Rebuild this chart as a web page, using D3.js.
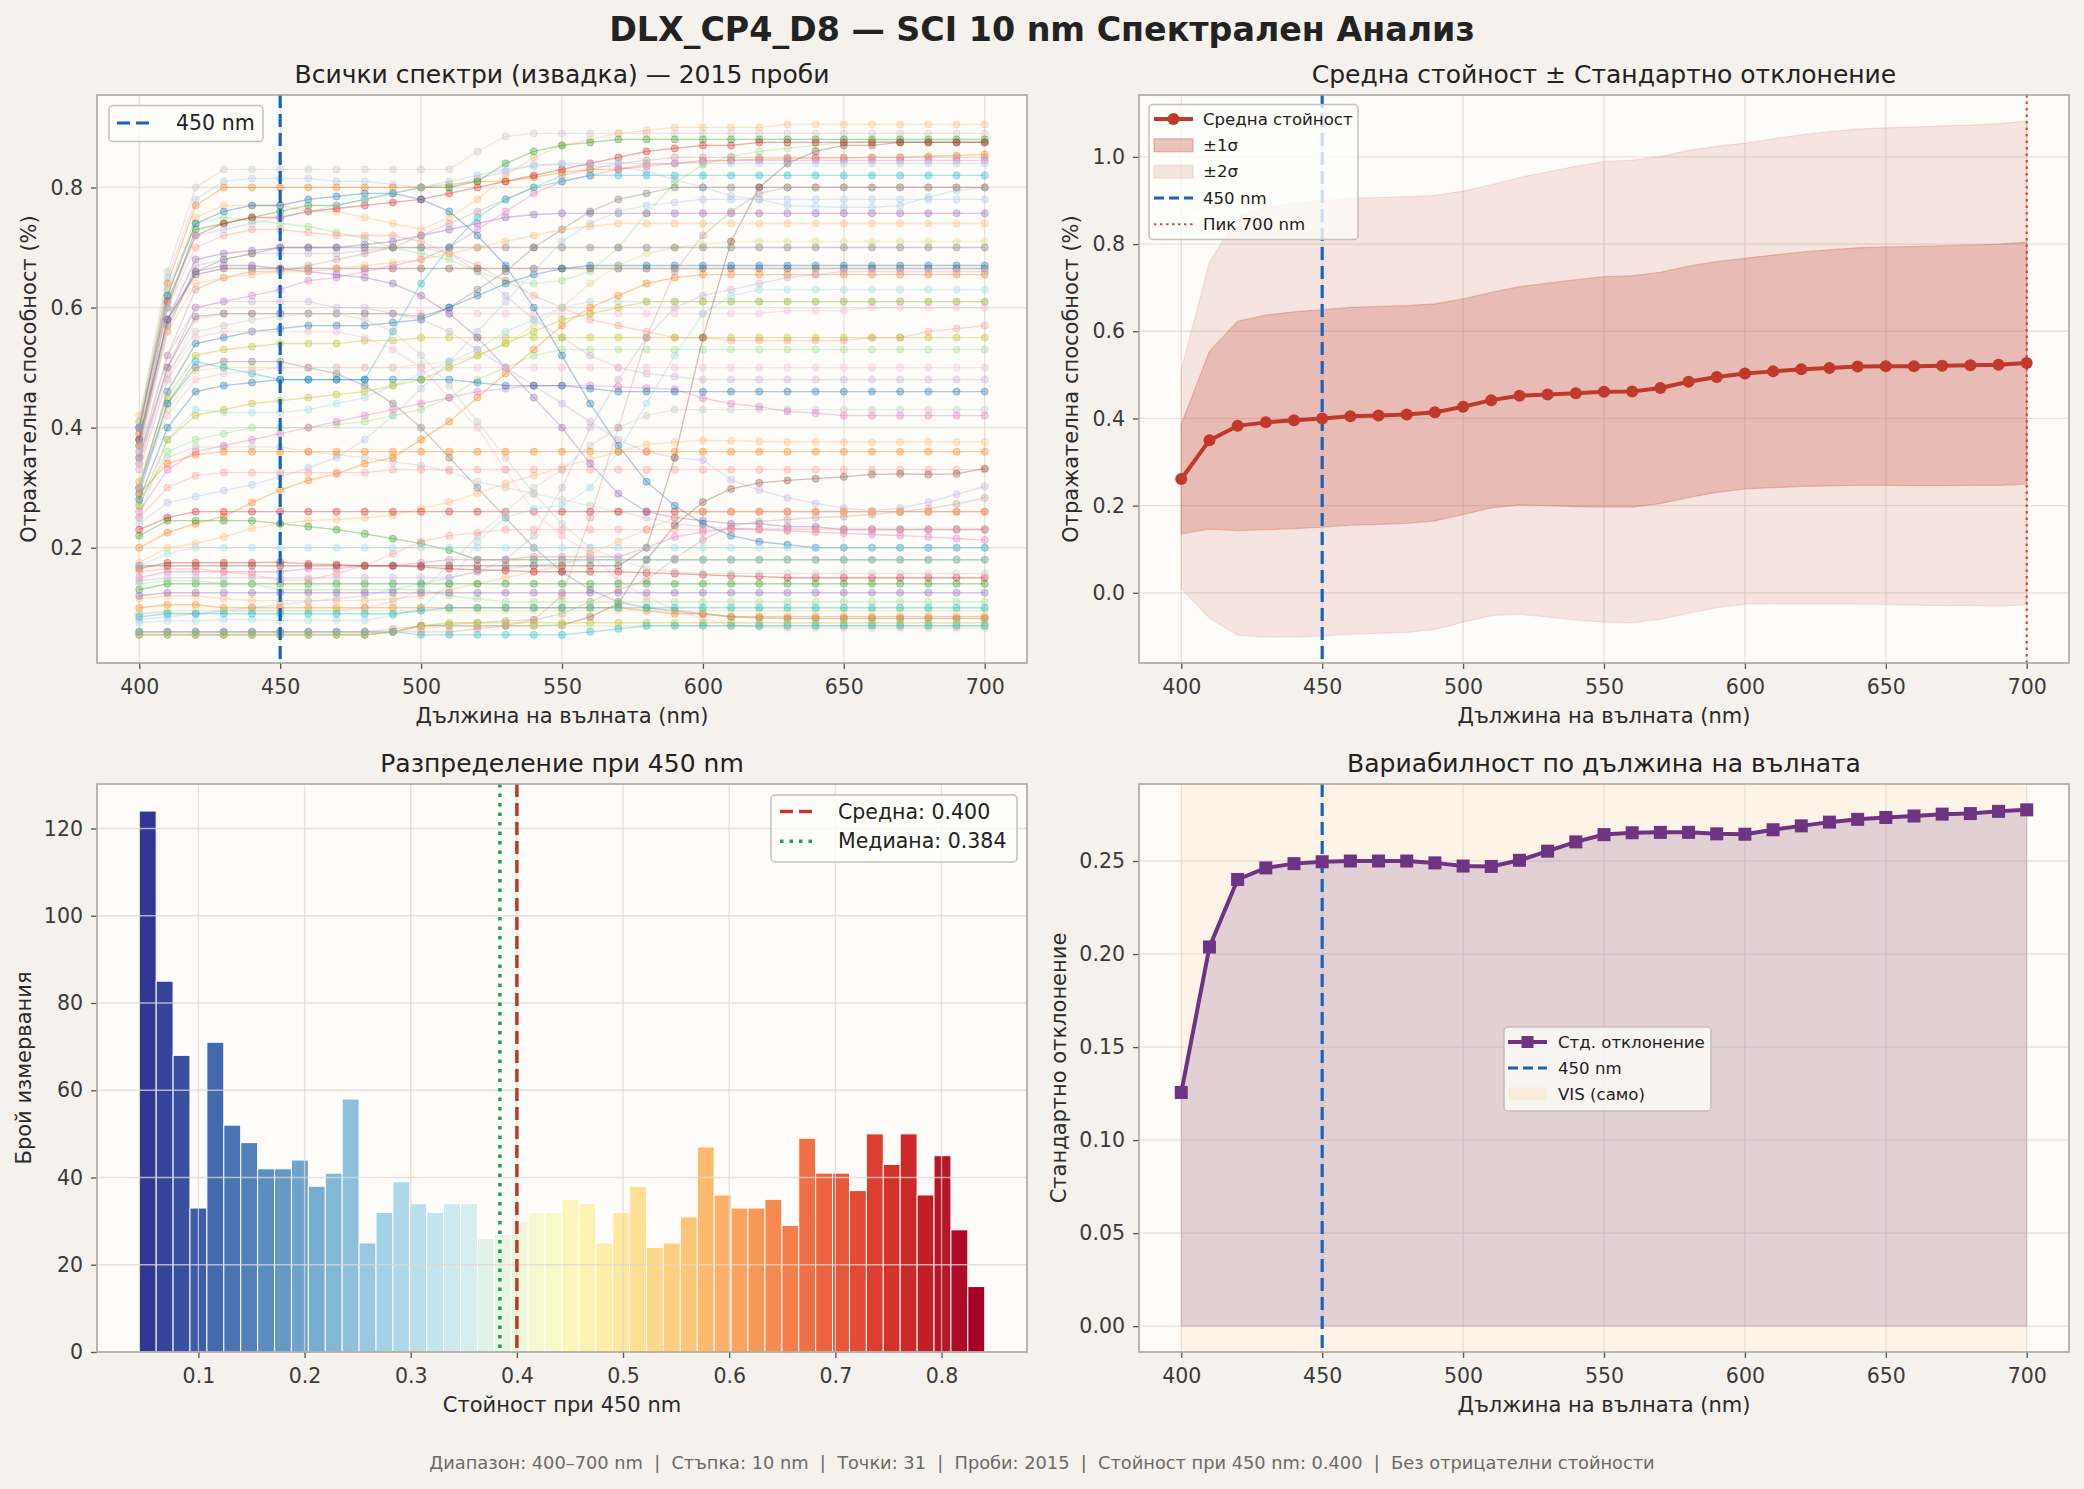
<!DOCTYPE html>
<html>
<head>
<meta charset="utf-8">
<script src="https://cdn.jsdelivr.net/npm/d3@7"></script>
<style>
  body { margin: 0; background: #f5f1ec; }
  text { font-family: "DejaVu Sans", sans-serif; }
</style>
</head>
<body>
<svg id="chart" width="2084" height="1489"></svg>
<script>
// ---- data ----
const wavelengths = [400,410,420,430,440,450,460,470,480,490,500,510,520,530,540,550,560,570,580,590,600,610,620,630,640,650,660,670,680,690,700];
const meanRefl = [.261,.350,.383,.391,.396,.400,.405,.407,.409,.414,.427,.442,.452,.455,.458,.461,.462,.470,.484,.495,.503,.508,.513,.516,.519,.520,.520,.521,.522,.523,.527];
const stdRefl = [.1256,.2038,.2401,.2463,.2486,.2496,.2500,.2500,.2500,.2490,.2473,.2471,.2504,.2553,.2603,.2642,.2652,.2654,.2654,.2646,.2644,.2668,.2689,.2709,.2724,.2734,.2742,.2752,.2755,.2767,.2775];
const histCounts = [124,85,68,33,71,52,48,42,42,44,38,41,58,25,32,39,34,32,34,34,26,27,30,32,32,35,34,25,32,38,24,25,31,47,36,33,33,35,29,49,41,41,37,50,43,50,36,45,28,15];
const histMin = 0.0443, histMax = 0.8407;
const meanAt450 = 0.400, medianAt450 = 0.384;
const nSamples = 2015;

const wlTicks = [400,450,500,550,600,650,700];
const reflTicksTL = [0.2,0.4,0.6,0.8];
const reflTicksTR = [0.0,0.2,0.4,0.6,0.8,1.0];
const histXTicks = [0.1,0.2,0.3,0.4,0.5,0.6,0.7,0.8];
const histYTicks = [0,20,40,60,80,100,120];
const stdTicks = [0,0.05,0.10,0.15,0.20,0.25];

// sample spectra (400..700 nm, 10 nm step)
const sampleSpectra = [
 [.41,.66,.80,.83,.83, .83,.83,.83,.83,.83, .83,.83,.86,.885,.89, .89,.89,.89,.89,.89, .89,.89,.89,.89,.89, .89,.89,.89,.89,.89, .89],
 [.40,.65,.78,.81,.815, .815,.815,.81,.81,.805, .80,.80,.815,.826,.838, .838,.836,.834,.827,.813, .80,.786,.78,.77,.768, .767,.767,.77,.784,.795, .80],
 [.39,.64,.77,.80,.80, .80,.80,.80,.80,.80, .80,.805,.81,.81,.817, .825,.83,.83,.839,.84, .843,.845,.847,.848,.849, .849,.85,.85,.852,.853, .855],
 [.42,.62,.75,.77,.77, .77,.76,.76,.75,.74, .73,.75,.78,.82,.85, .87,.88,.89,.895,.90, .90,.90,.90,.905,.905, .905,.905,.905,.905,.905, .905],
 [.38,.60,.73,.74,.75, .76,.77,.77,.78,.79, .80,.80,.81,.84,.86, .87,.875,.88,.88,.88, .88,.88,.88,.88,.88, .88,.88,.88,.88,.88, .88],
 [.41,.63,.74,.75,.745, .74,.735,.725,.715,.70, .69,.68,.66,.645,.64, .645,.66,.70,.757,.807, .838,.852,.86,.865,.87, .875,.877,.877,.877,.877, .877],
 [.40,.61,.72,.74,.75, .75,.76,.765,.77,.775, .78,.79,.80,.81,.82, .83,.84,.85,.86,.865, .87,.87,.875,.875,.875, .875,.875,.875,.875,.875, .875],
 [.39,.60,.70,.72,.73, .73,.725,.72,.72,.72, .71,.69,.67,.645,.62, .60,.58,.57,.56,.55, .55,.545,.545,.545,.545, .545,.55,.55,.56,.565, .57],
 [.37,.58,.68,.69,.695, .70,.70,.70,.705,.71, .72,.73,.74,.75,.755, .757,.757,.757,.757,.757, .757,.757,.757,.757,.757, .757,.757,.757,.757,.757, .757],
 [.36,.56,.67,.68,.69, .69,.69,.69,.695,.70, .70,.69,.66,.62,.58, .55,.52,.50,.49,.485, .48,.48,.48,.48,.48, .48,.48,.48,.48,.48, .48],
 [.38,.58,.655,.665,.665, .665,.665,.665,.665,.665, .665,.665,.665,.665,.665, .665,.665,.665,.665,.665, .665,.665,.665,.665,.665, .665,.665,.665,.665,.665, .665],
 [.35,.52,.63,.65,.66, .66,.67,.68,.69,.70, .72,.74,.76,.78,.80, .82,.83,.84,.845,.85, .85,.85,.85,.85,.85, .85,.85,.85,.85,.85, .85],
 [.34,.50,.60,.61,.62, .63,.645,.65,.66,.67, .68,.70,.73,.76,.79, .81,.82,.83,.835,.84, .845,.845,.845,.845,.845, .845,.845,.845,.845,.845, .845],
 [.33,.48,.58,.59,.59, .59,.59,.59,.59,.59, .59,.59,.59,.59,.59, .59,.59,.59,.59,.59, .59,.59,.59,.595,.595, .595,.60,.60,.60,.60, .60],
 [.35,.50,.585,.59,.59, .59,.59,.59,.59,.59, .585,.60,.63,.66,.70, .73,.76,.78,.79,.80, .80,.80,.80,.80,.80, .80,.80,.80,.80,.80, .80],
 [.30,.46,.54,.55,.56, .565,.57,.57,.57,.575, .58,.60,.62,.64,.655, .665,.67,.67,.67,.67, .67,.67,.67,.67,.67, .67,.67,.67,.67,.67, .67],
 [.31,.45,.52,.53,.535, .54,.54,.54,.545,.545, .55,.55,.55,.55,.55, .55,.55,.55,.55,.55, .55,.55,.55,.55,.55, .55,.55,.55,.55,.55, .55],
 [.30,.43,.495,.50,.50, .50,.50,.50,.50,.50, .505,.51,.52,.54,.57, .60,.64,.67,.69,.70, .705,.71,.71,.71,.71, .71,.71,.71,.71,.71, .71],
 [.29,.44,.51,.50,.49, .48,.48,.48,.48,.56, .64,.70,.75,.78,.80, .81,.82,.82,.82,.82, .82,.82,.82,.82,.82, .82,.82,.82,.82,.82, .82],
 [.25,.38,.43,.425,.425, .425,.43,.44,.45,.47, .49,.51,.53,.56,.58, .60,.61,.61,.61,.61, .61,.61,.61,.61,.61, .61,.61,.61,.61,.61, .61],
 [.28,.35,.368,.368,.368, .368,.36,.355,.35,.343, .337,.327,.31,.30,.29, .28,.27,.26,.25,.24, .235,.232,.232,.232,.232, .232,.232,.232,.232,.232, .232],
 [.24,.275,.285,.295,.305, .318,.333,.35,.38,.42, .465,.51,.56,.61,.66, .71,.74,.76,.77,.775, .78,.78,.78,.78,.78, .78,.78,.78,.78,.78, .78],
 [.20,.225,.24,.252,.275, .296,.312,.323,.34,.35, .38,.41,.45,.49,.53, .57,.60,.62,.64,.65, .655,.655,.655,.655,.655, .655,.655,.655,.655,.655, .655],
 [.175,.20,.207,.218,.232, .24,.245,.247,.25,.254, .265,.276,.29,.307,.32, .334,.347,.36,.372,.376, .379,.378,.377,.376,.376, .376,.376,.376,.376,.376, .376],
 [.22,.245,.245,.245,.245, .24,.235,.23,.223,.215, .207,.196,.18,.18,.18, .18,.18,.18,.18,.18, .18,.18,.18,.18,.18, .18,.18,.18,.18,.18, .18],
 [.27,.36,.38,.39,.40, .40,.40,.405,.41,.42, .43,.45,.48,.50,.52, .53,.53,.53,.53,.53, .53,.53,.53,.53,.53, .53,.53,.53,.53,.53, .53],
 [.23,.25,.26,.26,.26, .26,.26,.26,.26,.26, .26,.26,.26,.26,.26, .26,.26,.26,.26,.26, .26,.26,.26,.26,.26, .26,.26,.26,.26,.26, .26],
 [.25,.30,.32,.325,.325, .325,.325,.325,.325,.33, .33,.33,.33,.33,.33, .33,.33,.33,.33,.33, .33,.33,.33,.33,.33, .33,.33,.33,.33,.33, .33],
 [.38,.58,.66,.67,.67, .665,.66,.655,.65,.64, .62,.59,.55,.50,.45, .40,.34,.29,.26,.25, .245,.24,.24,.235,.235, .23,.23,.23,.23,.23, .23],
 [.36,.52,.60,.61,.61, .61,.61,.60,.60,.59, .58,.56,.53,.50,.47, .44,.41,.38,.36,.35, .346,.313,.296,.283,.274, .266,.262,.266,.276,.289, .302],
 [.055,.055,.055,.055,.055, .055,.055,.055,.055,.06, .07,.07,.07,.07,.07, .071,.085,.107,.18,.237, .276,.298,.308,.312,.315, .318,.322,.323,.322,.323, .332],
 [.06,.06,.06,.06,.06, .06,.06,.06,.06,.065, .07,.072,.075,.078,.08, .09,.11,.13,.146,.182, .213,.236,.244,.247,.25, .252,.255,.26,.265,.273, .283],
 [.15,.16,.16,.16,.16, .16,.165,.165,.17,.17, .175,.18,.18,.18,.185, .185,.185,.185,.20,.218, .226,.232,.23,.228,.226, .224,.222,.22,.218,.215, .213],
 [.33,.48,.55,.56,.56, .56,.56,.56,.55,.53, .50,.45,.40,.33,.26, .22,.19,.146,.118,.096, .082,.07,.068,.066,.066, .066,.066,.066,.066,.066, .066],
 [.30,.44,.50,.51,.51, .51,.50,.49,.47,.44, .40,.35,.30,.25,.20, .16,.13,.11,.10,.095, .09,.085,.083,.082,.082, .082,.082,.082,.082,.082, .082],
 [.40,.62,.74,.76,.77, .77,.78,.785,.79,.79, .78,.76,.72,.67,.60, .52,.44,.37,.31,.27, .24,.22,.21,.205,.20, .20,.20,.20,.20,.20, .20],
 [.055,.055,.055,.055,.055, .055,.055,.055,.055,.06, .07,.075,.075,.075,.075, .075,.075,.075,.075,.075, .075,.075,.075,.075,.075, .075,.075,.075,.075,.075, .075],
 [.056,.056,.056,.056,.056, .056,.056,.056,.058,.06, .065,.07,.07,.07,.07, .07,.07,.07,.07,.07, .07,.07,.07,.07,.07, .07,.07,.07,.07,.07, .07],
 [.06,.06,.06,.06,.06, .06,.06,.06,.06,.06, .055,.055,.055,.055,.055, .055,.06,.065,.07,.07, .07,.07,.07,.07,.07, .07,.07,.07,.07,.07, .07],
 [.075,.078,.078,.08,.08, .079,.079,.079,.079,.087, .10,.14,.21,.25,.265, .27,.30,.36,.44,.52, .59,.62,.63,.63,.63, .63,.63,.63,.63,.63, .63],
 [.09,.092,.09,.095,.095, .095,.095,.095,.10,.11, .13,.17,.22,.26,.30, .33,.37,.40,.42,.43, .43,.43,.43,.43,.43, .43,.43,.43,.43,.43, .43],
 [.08,.085,.09,.095,.10, .105,.11,.115,.12,.13, .14,.15,.16,.165,.17, .175,.18,.18,.18,.18, .18,.18,.18,.18,.18, .18,.18,.18,.18,.18, .18],
 [.10,.105,.105,.10,.10, .10,.10,.10,.10,.10, .10,.10,.10,.10,.10, .10,.10,.10,.095,.09, .09,.085,.085,.085,.085, .085,.085,.085,.085,.085, .085],
 [.115,.12,.12,.115,.112, .112,.112,.112,.112,.115, .12,.13,.14,.15,.16, .17,.19,.21,.23,.25, .26,.26,.26,.26,.26, .26,.26,.26,.26,.26, .26],
 [.13,.14,.14,.14,.14, .14,.14,.14,.14,.14, .14,.14,.14,.14,.14, .14,.14,.14,.14,.14, .14,.14,.14,.14,.14, .14,.14,.14,.14,.14, .14],
 [.14,.145,.145,.14,.14, .13,.13,.13,.13,.13, .13,.12,.115,.11,.11, .11,.11,.11,.11,.11, .11,.11,.11,.11,.11, .11,.11,.11,.11,.11, .11],
 [.165,.175,.175,.175,.175, .176,.173,.172,.17,.17, .168,.165,.163,.162,.16, .16,.16,.16,.158,.157, .155,.153,.152,.15,.15, .15,.15,.15,.15,.15, .15],
 [.16,.165,.165,.16,.155, .146,.146,.157,.17,.19, .21,.22,.225,.23,.23, .23,.23,.23,.23,.23, .23,.23,.23,.23,.23, .23,.23,.23,.23,.23, .23],
 [.12,.125,.125,.125,.125, .125,.125,.125,.125,.125, .125,.125,.125,.125,.125, .125,.125,.125,.125,.125, .125,.125,.125,.125,.125, .125,.125,.125,.125,.125, .125],
 [.145,.15,.15,.15,.15, .15,.15,.15,.15,.15, .15,.15,.16,.18,.22, .30,.40,.48,.55,.60, .62,.63,.64,.65,.655, .66,.66,.66,.66,.66, .66],
 [.17,.17,.17,.17,.17, .17,.17,.17,.17,.17, .17,.17,.17,.17,.17, .17,.17,.17,.20,.35, .55,.71,.80,.84,.86, .87,.87,.875,.875,.875, .875],
 [.06,.06,.06,.06,.06, .06,.06,.06,.06,.06, .06,.06,.065,.07,.08, .12,.25,.40,.55,.66, .72,.76,.79,.80,.80, .80,.80,.80,.80,.80, .80],
 [.26,.33,.36,.37,.38, .39,.40,.41,.42,.43, .44,.45,.46,.465,.47, .47,.47,.468,.466,.464, .449,.44,.435,.427,.424, .42,.42,.42,.42,.42, .42],
 [.30,.42,.48,.49,.495, .50,.50,.50,.50,.50, .50,.50,.50,.50,.50, .50,.50,.50,.50,.50, .50,.50,.50,.50,.50, .50,.50,.50,.50,.50, .50],
 [.37,.57,.66,.68,.69, .70,.70,.70,.70,.70, .70,.70,.70,.70,.70, .70,.70,.70,.70,.70, .70,.70,.70,.70,.70, .70,.70,.70,.70,.70, .70],
 [.28,.40,.46,.47,.475, .48,.48,.48,.48,.48, .48,.48,.475,.47,.47, .47,.465,.46,.46,.46, .46,.46,.46,.46,.46, .46,.46,.46,.46,.46, .46],
 [.27,.38,.42,.43,.44, .445,.45,.455,.46,.47, .48,.50,.52,.54,.56, .58,.59,.60,.61,.61, .61,.61,.61,.61,.61, .61,.61,.61,.61,.61, .61],
 [.09,.095,.095,.095,.095, .095,.095,.095,.095,.095, .095,.095,.095,.095,.095, .095,.095,.095,.095,.095, .095,.095,.095,.095,.095, .095,.095,.095,.095,.095, .095],
 [.085,.09,.09,.09,.09, .09,.09,.09,.09,.09, .095,.10,.10,.10,.10, .10,.10,.10,.10,.10, .10,.10,.10,.10,.10, .10,.10,.10,.10,.10, .10],
 [.17,.19,.20,.20,.20, .20,.20,.20,.20,.20, .20,.20,.20,.20,.20, .20,.20,.20,.20,.20, .20,.20,.20,.20,.20, .20,.20,.20,.20,.20, .20],
 [.34,.49,.56,.57,.58, .585,.59,.59,.58,.56, .52,.47,.41,.35,.29, .24,.20,.18,.165,.16, .157,.157,.157,.157,.157, .157,.157,.157,.157,.157, .157],
 [.40,.60,.72,.73,.74, .75,.76,.77,.78,.79, .80,.81,.82,.83,.835, .84,.84,.84,.84,.84, .84,.84,.84,.84,.84, .84,.84,.84,.84,.84, .84],
 [.29,.34,.355,.36,.36, .36,.36,.36,.36,.36, .36,.36,.36,.36,.36, .36,.36,.36,.36,.36, .36,.36,.36,.36,.36, .36,.36,.36,.36,.36, .36],
 [.37,.56,.64,.65,.655, .66,.66,.665,.67,.675, .68,.69,.70,.71,.72, .73,.735,.74,.74,.74, .74,.74,.74,.74,.74, .74,.74,.74,.74,.74, .74]
];

// tab20 colours for the sample lines (light grey first, as in the reference top line)
const tab20 = ["#c7c7c7","#aec7e8","#ff7f0e","#ffbb78","#2ca02c","#98df8a","#d62728","#ff9896","#9467bd","#c5b0d5",
               "#8c564b","#c49c94","#e377c2","#f7b6d2","#7f7f7f","#1f77b4","#bcbd22","#dbdb8d","#17becf","#9edae5"];

// ---- layout ----
const svg = d3.select("#chart");
svg.append("rect").attr("width", 2084).attr("height", 1489).attr("fill", "#f5f1ec");

const PW = 930, PH = 568;
const BLUE = "#1565c0", RED = "#c0392b", PURPLE = "#6c3483";
const TICK_FS = "20.5px", LABEL_FS = "21px", TITLE_FS = "25px";

function makePanel(px, py, xDomain, yDomain) {
  const xs = d3.scaleLinear().domain(xDomain).range([px, px + PW]);
  const ys = d3.scaleLinear().domain(yDomain).range([py + PH, py]);
  const g = svg.append("g");
  g.append("rect").attr("x", px).attr("y", py).attr("width", PW).attr("height", PH).attr("fill", "#fdfcf9");
  const under = g.append("g");
  const grid = g.append("g");
  const plot = g.append("g");
  const over = g.append("g");
  return {g, under, grid, plot, over, xs, ys, px, py};
}

function drawGrid(p, xTicks, yTicks, layer) {
  const l = layer || p.grid;
  l.selectAll(null).data(xTicks).join("line")
    .attr("x1", d => p.xs(d)).attr("x2", d => p.xs(d))
    .attr("y1", p.py).attr("y2", p.py + PH)
    .attr("stroke", "#ddd8d2").attr("stroke-width", 1.3).attr("stroke-opacity", 0.75);
  l.selectAll(null).data(yTicks).join("line")
    .attr("x1", p.px).attr("x2", p.px + PW)
    .attr("y1", d => p.ys(d)).attr("y2", d => p.ys(d))
    .attr("stroke", "#ddd8d2").attr("stroke-width", 1.3).attr("stroke-opacity", 0.75);
}

function drawAxes(p, xTicks, yTicks, xFmt, yFmt) {
  const ax = svg.append("g").attr("transform", `translate(0,${p.py + PH})`)
    .call(d3.axisBottom(p.xs).tickValues(xTicks).tickFormat(xFmt).tickSize(6).tickPadding(10));
  const ay = svg.append("g").attr("transform", `translate(${p.px},0)`)
    .call(d3.axisLeft(p.ys).tickValues(yTicks).tickFormat(yFmt).tickSize(6).tickPadding(8));
  [ax, ay].forEach(a => {
    a.attr("font-size", null).attr("font-family", null);
    a.select(".domain").remove();
    a.selectAll(".tick line").attr("stroke", "#555").attr("stroke-width", 1.3);
    a.selectAll(".tick text").attr("fill", "#3a3a3a").style("font-size", TICK_FS);
  });
  svg.append("rect").attr("x", p.px).attr("y", p.py).attr("width", PW).attr("height", PH)
    .attr("fill", "none").attr("stroke", "#aaa5a0").attr("stroke-width", 1.6);
}

function labels(p, title, xLabel, yLabel, yLabelX) {
  svg.append("text").attr("x", p.px + PW / 2).attr("y", p.py - 20.5).attr("dy", "0.35em")
    .attr("text-anchor", "middle").attr("fill", "#222").style("font-size", TITLE_FS).text(title);
  svg.append("text").attr("x", p.px + PW / 2).attr("y", p.py + PH + 53).attr("dy", "0.35em")
    .attr("text-anchor", "middle").attr("fill", "#2a2a2a").style("font-size", LABEL_FS).text(xLabel);
  svg.append("text").attr("transform", `translate(${yLabelX},${p.py + PH / 2}) rotate(-90)`)
    .attr("dy", "0.35em").attr("text-anchor", "middle").attr("fill", "#2a2a2a").style("font-size", LABEL_FS).text(yLabel);
}

function vline(p, layer, xv, color, width, dash) {
  layer.append("line").attr("x1", p.xs(xv)).attr("x2", p.xs(xv)).attr("y1", p.py).attr("y2", p.py + PH)
    .attr("stroke", color).attr("stroke-width", width).attr("stroke-dasharray", dash);
}

function legend(x, y, w, h, items, o) {
  const lg = svg.append("g");
  lg.append("rect").attr("x", x).attr("y", y).attr("width", w).attr("height", h).attr("rx", 4)
    .attr("fill", "#fdfcf9").attr("fill-opacity", 0.8).attr("stroke", "#c4bfb9").attr("stroke-width", 1.5);
  items.forEach((it, i) => {
    const cy = y + o.first + i * o.step;
    const x0 = x + o.hx0, x1 = x + o.hx1;
    if (it.kind === "patch") {
      lg.append("rect").attr("x", x0).attr("y", cy - o.ph / 2).attr("width", x1 - x0).attr("height", o.ph)
        .attr("fill", it.color).attr("fill-opacity", it.opacity)
        .attr("stroke", it.edge || "none").attr("stroke-opacity", it.opacity).attr("stroke-width", 1.2);
    } else {
      lg.append("line").attr("x1", x0).attr("x2", x1).attr("y1", cy).attr("y2", cy)
        .attr("stroke", it.color).attr("stroke-width", it.width).attr("stroke-dasharray", it.dash || null);
      if (it.marker === "circle") lg.append("circle").attr("cx", (x0 + x1) / 2).attr("cy", cy).attr("r", 6).attr("fill", it.color);
      if (it.marker === "square") lg.append("rect").attr("x", (x0 + x1) / 2 - 6).attr("y", cy - 6).attr("width", 12).attr("height", 12).attr("fill", it.color);
    }
    lg.append("text").attr("x", x + o.tx).attr("y", cy).attr("dy", "0.35em").attr("fill", "#222")
      .style("font-size", o.fs + "px").text(it.label);
  });
}

// ---- suptitle & footer ----
svg.append("text").attr("x", 1042).attr("y", 29).attr("dy", "0.35em").attr("text-anchor", "middle")
  .attr("fill", "#222").style("font-size", "33.3px").style("font-weight", "bold")
  .text("DLX_CP4_D8 — SCI 10 nm Спектрален Анализ");
svg.append("text").attr("x", 1042).attr("y", 1463).attr("dy", "0.35em").attr("text-anchor", "middle")
  .attr("fill", "#6a6a6a").style("font-size", "17.8px").style("white-space", "pre")
  .text(`Диапазон: 400–700 nm  |  Стъпка: 10 nm  |  Точки: ${wavelengths.length}  |  Проби: ${nSamples}  |  Стойност при 450 nm: ${meanAt450.toFixed(3)}  |  Без отрицателни стойности`);

const f1 = d3.format(".1f"), f2 = d3.format(".2f"), fi = d3.format("d");

// ---- panel 1: sample spectra ----
const p1 = makePanel(97, 95, [385, 715], [0.008, 0.954]);
drawGrid(p1, wlTicks, reflTicksTL);
const line1 = d3.line().x((d, i) => p1.xs(wavelengths[i])).y(d => p1.ys(d));
sampleSpectra.forEach((s, k) => {
  const c = tab20[k % 20];
  p1.plot.append("path").attr("d", line1(s)).attr("fill", "none")
    .attr("stroke", c).attr("stroke-width", 1.3).attr("stroke-opacity", 0.38);
  p1.plot.append("g").selectAll("circle").data(s).join("circle")
    .attr("cx", (d, i) => p1.xs(wavelengths[i])).attr("cy", d => p1.ys(d)).attr("r", 3.6)
    .attr("fill", c).attr("fill-opacity", 0.35).attr("stroke", c).attr("stroke-opacity", 0.42).attr("stroke-width", 0.8);
});
vline(p1, p1.over, 450, BLUE, 3.2, "13,6");
drawAxes(p1, wlTicks, reflTicksTL, fi, f1);
labels(p1, `Всички спектри (извадка) — ${nSamples} проби`, "Дължина на вълната (nm)", "Отражателна способност (%)", 29);
legend(109, 105.5, 154, 36, [{kind: "line", color: BLUE, width: 3.2, dash: "13,6", label: "450 nm"}],
  {first: 17.5, step: 0, hx0: 8, hx1: 45, tx: 67, fs: 20.5, ph: 14});

// ---- panel 2: mean ± std ----
const p2 = makePanel(1139, 95, [385, 715], [-0.161, 1.142]);
drawGrid(p2, wlTicks, reflTicksTR);
const band = k => d3.area().x((d, i) => p2.xs(wavelengths[i]))
  .y0((d, i) => p2.ys(meanRefl[i] - k * stdRefl[i])).y1((d, i) => p2.ys(meanRefl[i] + k * stdRefl[i]));
p2.plot.append("path").attr("d", band(2)(meanRefl)).attr("fill", RED).attr("fill-opacity", 0.12)
  .attr("stroke", RED).attr("stroke-opacity", 0.12).attr("stroke-width", 1.2);
p2.plot.append("path").attr("d", band(1)(meanRefl)).attr("fill", RED).attr("fill-opacity", 0.23)
  .attr("stroke", RED).attr("stroke-opacity", 0.25).attr("stroke-width", 1.2);
vline(p2, p2.plot, 450, BLUE, 3.2, "13,6");
vline(p2, p2.plot, 700, "#d9453a", 2.2, "2.5,4");
const line2 = d3.line().x((d, i) => p2.xs(wavelengths[i])).y(d => p2.ys(d));
p2.plot.append("path").attr("d", line2(meanRefl)).attr("fill", "none").attr("stroke", RED).attr("stroke-width", 4);
p2.plot.append("g").selectAll("circle").data(meanRefl).join("circle")
  .attr("cx", (d, i) => p2.xs(wavelengths[i])).attr("cy", d => p2.ys(d)).attr("r", 6).attr("fill", RED);
drawAxes(p2, wlTicks, reflTicksTR, fi, f1);
labels(p2, "Средна стойност ± Стандартно отклонение", "Дължина на вълната (nm)", "Отражателна способност (%)", 1071);
legend(1149, 104.5, 209, 135, [
  {kind: "line", color: RED, width: 4, marker: "circle", label: "Средна стойност"},
  {kind: "patch", color: RED, opacity: 0.3, edge: RED, label: "±1σ"},
  {kind: "patch", color: RED, opacity: 0.12, edge: RED, label: "±2σ"},
  {kind: "line", color: BLUE, width: 3, dash: "10,5", label: "450 nm"},
  {kind: "line", color: "#d9453a", width: 2, dash: "2.5,3.5", label: "Пик 700 nm"}
], {first: 14.5, step: 26.3, hx0: 5, hx1: 44, tx: 54, fs: 16.6, ph: 13});

// ---- panel 3: histogram at 450 nm ----
const p3 = makePanel(97, 784, [0.0045, 0.8805], [0, 130.2]);
const binW = (histMax - histMin) / histCounts.length;
p3.plot.selectAll("rect").data(histCounts).join("rect")
  .attr("x", (d, i) => p3.xs(histMin + i * binW))
  .attr("width", (d, i) => p3.xs(histMin + (i + 1) * binW) - p3.xs(histMin + i * binW))
  .attr("y", d => p3.ys(d)).attr("height", d => p3.ys(0) - p3.ys(d))
  .attr("fill", (d, i) => d3.interpolateRdYlBu(1 - i / (histCounts.length - 1)))
  .attr("stroke", "#fff").attr("stroke-width", 1);
drawGrid(p3, histXTicks, histYTicks, p3.over);
vline(p3, p3.over, medianAt450, "#1f9d5a", 3.5, "3.5,6");
vline(p3, p3.over, meanAt450, RED, 3.5, "13,6");
drawAxes(p3, histXTicks, histYTicks, f1, fi);
labels(p3, "Разпределение при 450 nm", "Стойност при 450 nm", "Брой измервания", 24);
legend(771, 795, 246, 67, [
  {kind: "line", color: RED, width: 3.5, dash: "13,6", label: `Средна: ${meanAt450.toFixed(3)}`},
  {kind: "line", color: "#1f9d5a", width: 3.5, dash: "3.5,6", label: `Медиана: ${medianAt450.toFixed(3)}`}
], {first: 16.5, step: 29.8, hx0: 9, hx1: 47, tx: 67, fs: 20.5, ph: 14});

// ---- panel 4: std by wavelength ----
const p4 = makePanel(1139, 784, [385, 715], [-0.0139, 0.2914]);
p4.under.append("rect").attr("x", p4.xs(400)).attr("y", p4.py).attr("width", p4.xs(700) - p4.xs(400)).attr("height", PH)
  .attr("fill", "#fde3c3").attr("fill-opacity", 0.35);
drawGrid(p4, wlTicks, stdTicks);
const area4 = d3.area().x((d, i) => p4.xs(wavelengths[i])).y0(p4.ys(0)).y1(d => p4.ys(d));
p4.plot.append("path").attr("d", area4(stdRefl)).attr("fill", PURPLE).attr("fill-opacity", 0.18)
  .attr("stroke", PURPLE).attr("stroke-opacity", 0.15).attr("stroke-width", 1.2);
vline(p4, p4.plot, 450, BLUE, 3.2, "13,6");
const line4 = d3.line().x((d, i) => p4.xs(wavelengths[i])).y(d => p4.ys(d));
p4.plot.append("path").attr("d", line4(stdRefl)).attr("fill", "none").attr("stroke", PURPLE).attr("stroke-width", 4);
p4.plot.append("g").selectAll("rect").data(stdRefl).join("rect")
  .attr("x", (d, i) => p4.xs(wavelengths[i]) - 6.5).attr("y", d => p4.ys(d) - 6.5)
  .attr("width", 13).attr("height", 13).attr("fill", PURPLE);
drawAxes(p4, wlTicks, stdTicks, fi, f2);
labels(p4, "Вариабилност по дължина на вълната", "Дължина на вълната (nm)", "Стандартно отклонение", 1059);
legend(1504, 1027, 207, 84, [
  {kind: "line", color: PURPLE, width: 4, marker: "square", label: "Стд. отклонение"},
  {kind: "line", color: BLUE, width: 3, dash: "10,5", label: "450 nm"},
  {kind: "patch", color: "#fde3c3", opacity: 0.5, label: "VIS (само)"}
], {first: 15, step: 26, hx0: 4, hx1: 43, tx: 54, fs: 16.6, ph: 13});
</script>
</body>
</html>
